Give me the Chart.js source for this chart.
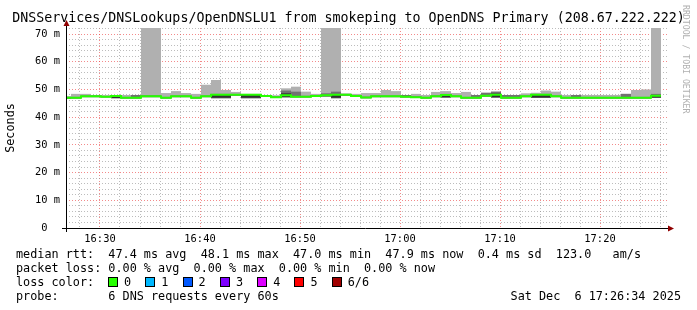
<!DOCTYPE html>
<html>
<head>
<meta charset="utf-8">
<script src="https://cdn.jsdelivr.net/npm/chart.js@4/dist/chart.umd.min.js"></script>
<style>
  html, body { margin: 0; padding: 0; background: #fff; }
  #wrap { position: relative; width: 697px; height: 310px; overflow: hidden;
          font-family: "DejaVu Sans Mono", monospace; color: #000; }
  #chart { position: absolute; left: 0; top: 0; }
  .title { position: absolute; left: 0; top: 10px; width: 697px; text-align: center;
           font-size: 13.3px; line-height: 16px; white-space: pre; }
  .mark { position: absolute; left: 681px; top: 5px; writing-mode: vertical-rl;
          font-size: 8.2px; color: #b0b0b0; white-space: pre; }
  .row { position: absolute; left: 16px; font-size: 11.8px; line-height: 14px; white-space: pre; }
  .date { position: absolute; right: 16px; font-size: 11.8px; line-height: 14px; white-space: pre; }
  .lc { position: absolute; left: 108px; display: flex; font-size: 11.8px; line-height: 14px; }
  .lc span { display: flex; align-items: center; width: 37.3px; white-space: pre; }
  .lc i { display: inline-block; width: 8px; height: 8px; border: 1px solid #000; margin-right: 6px; }
</style>
</head>
<body>
<div id="wrap">
  <canvas id="chart" width="697" height="310"></canvas>
  <div class="title">DNSServices/DNSLookups/OpenDNSLU1 from smokeping to OpenDNS Primary (208.67.222.222)</div>
  <div class="mark">RRDTOOL / TOBI OETIKER</div>
  <div class="row" style="top:247px">median rtt:  47.4 ms avg  48.1 ms max  47.0 ms min  47.9 ms now  0.4 ms sd  123.0   am/s</div>
  <div class="row" style="top:261px">packet loss: 0.00 % avg  0.00 % max  0.00 % min  0.00 % now</div>
  <div class="row" style="top:275px">loss color:</div>
  <div class="lc" id="lossColors" style="top:275px"></div>
  <div class="row" style="top:289px">probe:       6 DNS requests every 60s</div>
  <div class="date" style="top:289px">Sat Dec  6 17:26:34 2025</div>
</div>
<script>
// one smokeping step per minute, first step starts 16:26:06 (minutes after 16:00)
const firstStep = 26.1;

// median rtt per step (ms)
const median = [
  47.0, 47.0, 47.5, 47.5, 47.4, 47.6, 47.0, 47.0, 47.5, 47.5,
  47.0, 47.5, 47.5, 47.0, 47.5, 48.1, 48.1, 48.1, 48.1, 48.1,
  47.6, 47.2, 47.9, 47.4, 47.4, 47.6, 47.9, 48.1, 48.1, 47.6,
  47.1, 47.5, 47.5, 47.5, 47.4, 47.2, 47.0, 47.5, 48.0, 47.5,
  47.0, 47.0, 47.7, 48.1, 47.0, 47.0, 47.5, 48.1, 48.1, 47.5,
  47.0, 47.0, 47.0, 47.0, 47.0, 47.0, 47.0, 47.0, 47.0, 47.7
];
// sorted pings of each step (ms): slowest, 5th, 4th, 3rd, fastest
const pingMax = [
  47.6, 48.4, 48.4, 48.0, 47.9, 47.9, 48.0, 48.0, 160, 140,
  48.7, 49.4, 48.7, 48.4, 51.7, 53.4, 49.8, 49.1, 48.4, 48.4,
  48.0, 47.9, 50.4, 51.0, 49.2, 48.4, 130, 95, 48.6, 48.4,
  48.7, 48.7, 49.8, 49.4, 48.0, 48.4, 48.0, 49.1, 49.4, 48.7,
  49.1, 48.0, 48.8, 49.2, 48.0, 48.0, 48.6, 48.8, 49.6, 49.2,
  48.0, 48.0, 48.0, 48.0, 48.0, 48.0, 48.4, 49.8, 50.0, 110
];
const ping5 = [
  47.3, 47.3, 47.8, 47.8, 47.7, 47.8, 47.3, 48.0, 47.9, 47.9,
  47.3, 47.8, 47.8, 47.3, 47.8, 48.4, 48.4, 48.4, 48.3, 48.3,
  47.8, 47.5, 49.6, 49.2, 47.7, 47.9, 48.6, 49.2, 48.3, 47.9,
  47.4, 47.8, 47.8, 47.8, 48.0, 47.5, 47.3, 47.8, 48.4, 47.8,
  47.3, 48.0, 48.8, 49.2, 48.0, 48.0, 47.8, 48.3, 48.4, 47.8,
  47.3, 48.0, 47.3, 47.3, 47.3, 47.3, 48.4, 47.3, 47.3, 48.4
];
const ping4 = [
  47.1, 47.1, 47.6, 47.6, 47.5, 47.6, 47.1, 47.1, 47.6, 47.6,
  47.1, 47.6, 47.6, 47.1, 47.6, 48.2, 48.2, 48.2, 48.2, 48.2,
  47.7, 47.3, 48.6, 47.5, 47.5, 47.7, 48.0, 48.2, 48.2, 47.7,
  47.2, 47.6, 47.6, 47.6, 47.5, 47.3, 47.1, 47.6, 48.1, 47.6,
  47.1, 47.1, 47.8, 48.5, 47.1, 47.1, 47.6, 48.2, 48.2, 47.6,
  47.1, 47.1, 47.1, 47.1, 47.1, 47.1, 47.1, 47.1, 47.1, 47.8
];
const ping3 = [
  46.8, 46.9, 47.4, 47.4, 47.3, 46.9, 46.9, 46.9, 47.4, 47.4,
  46.9, 47.4, 47.4, 46.9, 47.4, 47.0, 47.0, 47.9, 47.0, 47.0,
  47.5, 47.1, 47.3, 47.3, 47.3, 47.5, 47.6, 47.0, 47.9, 47.5,
  47.0, 47.4, 47.4, 47.3, 47.3, 47.1, 46.9, 47.4, 47.2, 47.4,
  46.9, 46.9, 47.6, 47.2, 46.9, 46.9, 47.4, 47.1, 47.1, 47.4,
  46.9, 46.9, 46.9, 46.9, 46.9, 46.9, 46.9, 46.9, 46.9, 47.1
];
const pingMin = [
  46.7, 46.7, 47.2, 47.2, 47.1, 46.8, 46.7, 46.7, 47.2, 47.2,
  46.7, 47.2, 47.2, 46.7, 47.2, 46.8, 46.8, 47.8, 46.8, 46.8,
  47.3, 46.9, 47.1, 47.1, 47.1, 47.3, 47.4, 46.8, 47.8, 47.3,
  46.8, 47.2, 47.2, 47.2, 47.1, 46.9, 46.7, 47.2, 47.0, 47.2,
  46.7, 46.7, 47.4, 47.0, 46.7, 46.7, 47.2, 46.9, 46.9, 47.2,
  46.7, 46.7, 46.7, 46.7, 46.7, 46.7, 46.7, 46.7, 46.7, 46.9
];

const timeTicks = [30, 40, 50, 60, 70, 80];
const timeLabels = ['16:30', '16:40', '16:50', '17:00', '17:10', '17:20'];
const rttTicks = [0, 10, 20, 30, 40, 50, 60, 70];
const rttLabels = ['0  ', '10 m', '20 m', '30 m', '40 m', '50 m', '60 m', '70 m'];

const lossNames = ['0', '1', '2', '3', '4', '5', '6/6'];
const lossColors = ['#26ff00', '#00b8ff', '#0059ff', '#7e00ff', '#dd00ff', '#ff0000', '#a00000'];

// loss colour legend
const lc = document.getElementById('lossColors');
lossNames.forEach((n, i) => {
  const s = document.createElement('span');
  s.innerHTML = '<i style="background:' + lossColors[i] + '"></i>' + n;
  lc.appendChild(s);
});

function band(lo, hi) {
  return lo.map((v, i) => ({ x: firstStep + i + 0.5, y: [v, hi[i]] }));
}
const medianPts = median.map((v, i) => ({ x: firstStep + i, y: v }));
medianPts.push({ x: firstStep + median.length, y: median[median.length - 1] });

const axesPlugin = {
  id: 'axes',
  afterDatasetsDraw(chart) {
    const { ctx, chartArea: a } = chart;
    ctx.save();
    ctx.strokeStyle = '#000';
    ctx.lineWidth = 1;
    ctx.beginPath();
    ctx.moveTo(a.left - 4, a.bottom + 0.5);
    ctx.lineTo(a.right + 1, a.bottom + 0.5);
    ctx.moveTo(a.left + 0.5, a.bottom + 4);
    ctx.lineTo(a.left + 0.5, a.top - 3);
    ctx.stroke();
    ctx.fillStyle = '#900000';
    ctx.beginPath();
    ctx.moveTo(a.right + 6, a.bottom + 0.5);
    ctx.lineTo(a.right, a.bottom - 2.5);
    ctx.lineTo(a.right, a.bottom + 3.5);
    ctx.closePath();
    ctx.fill();
    ctx.beginPath();
    ctx.moveTo(a.left + 0.5, a.top - 8);
    ctx.lineTo(a.left - 2.5, a.top - 2);
    ctx.lineTo(a.left + 3.5, a.top - 2);
    ctx.closePath();
    ctx.fill();
    ctx.restore();
  }
};

const minorGrid = 'rgba(143,143,143,0.6)';
const majorGrid = 'rgba(235,60,60,0.6)';

Chart.defaults.font.family = 'DejaVu Sans Mono';
Chart.defaults.color = '#000';

new Chart(document.getElementById('chart'), {
  type: 'bar',
  data: {
    datasets: [
      { type: 'line', data: medianPts, borderColor: lossColors[0], borderWidth: 2,
        stepped: true, pointRadius: 0, tension: 0, clip: 0, order: 0 },
      { data: band(ping3, ping4), backgroundColor: '#323232', order: 1 },
      { data: band(pingMin, ping5), backgroundColor: '#717171', order: 2 },
      { data: band(pingMin, pingMax), backgroundColor: '#b0b0b0', order: 3 }
    ]
  },
  options: {
    responsive: false,
    devicePixelRatio: 1,
    animation: false,
    events: [],
    grouped: false,
    barThickness: 10,
    inflateAmount: 0,
    borderWidth: 0,
    layout: { padding: { top: 28, right: 29, bottom: 0, left: 0 } },
    plugins: { legend: { display: false }, tooltip: { enabled: false }, title: { display: false } },
    scales: {
      x: {
        type: 'linear', min: 26.6, max: 86.8, offset: false,
        afterFit: s => { s.height = 82; },
        grid: { offset: false, drawTicks: false, lineWidth: 1,
                color: c => (timeTicks.includes(c.tick.value) ? majorGrid : minorGrid) },
        border: { display: false, dash: [1, 2] },
        ticks: { stepSize: 2, includeBounds: false, autoSkip: false, maxRotation: 0, padding: 5,
                 font: { size: 10.4 },
                 callback: v => { const k = timeTicks.indexOf(v); return k < 0 ? '' : timeLabels[k]; } }
      },
      y: {
        min: 0, max: 72.17,
        afterFit: s => { s.width = 66; },
        grid: { drawTicks: false, lineWidth: 1,
                color: c => (c.tick.value === 0 ? 'rgba(0,0,0,0)' : rttTicks.includes(c.tick.value) ? majorGrid : minorGrid) },
        border: { display: false, dash: [1, 2] },
        title: { display: true, text: 'Seconds', font: { size: 11.8 }, padding: { top: 4, bottom: 0 } },
        ticks: { stepSize: 2, includeBounds: false, autoSkip: false, padding: 6,
                 font: { size: 10.4 },
                 callback: v => { const k = rttTicks.indexOf(v); return k < 0 ? '' : rttLabels[k]; } }
      }
    }
  },
  plugins: [axesPlugin]
});
</script>
</body>
</html>
